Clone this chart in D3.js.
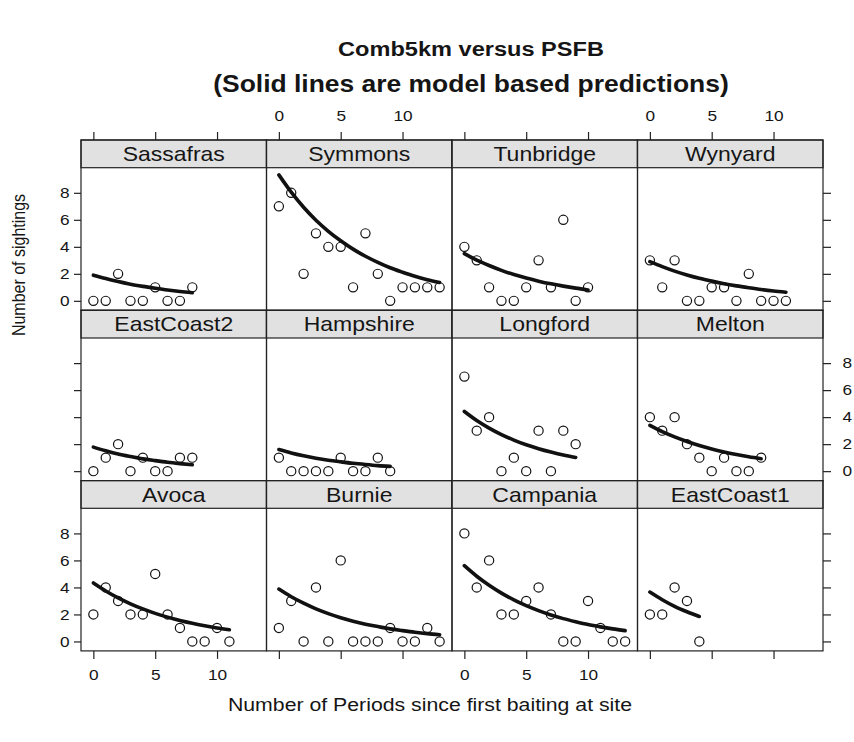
<!DOCTYPE html>
<meta charset="utf-8">
<style>
body { margin: 0; background: #fff; }
svg { display: block; }
text { font-family: "Liberation Sans", Arial, sans-serif; fill: #151515; }
.strip { fill: #e1e1e1; stroke: #222; stroke-width: 1.2px; }
.frame { fill: none; stroke: #222; stroke-width: 1.2px; }
.obs { fill: none; stroke: #111; stroke-width: 1.2px; }
.fit { fill: none; stroke: #111; stroke-width: 3.6px; stroke-linecap: round; }
</style>
<body>
<script src="https://cdn.jsdelivr.net/npm/d3@7"></script>
<script>
// panel order as lattice draws it, top row first
var rowsOfSites = [
  ["Sassafras", "Symmons", "Tunbridge", "Wynyard"],
  ["EastCoast2", "Hampshire", "Longford", "Melton"],
  ["Avoca", "Burnie", "Campania", "EastCoast1"]
];

// observed sightings, one value per period (period = index)
var obsSassafras  = [0, 0, 2, 0, 0, 1, 0, 0, 1];
var obsSymmons    = [7, 8, 2, 5, 4, 4, 1, 5, 2, 0, 1, 1, 1, 1];
var obsTunbridge  = [4, 3, 1, 0, 0, 1, 3, 1, 6, 0, 1];
var obsWynyard    = [3, 1, 3, 0, 0, 1, 1, 0, 2, 0, 0, 0];
var obsEastCoast2 = [0, 1, 2, 0, 1, 0, 0, 1, 1];
var obsHampshire  = [1, 0, 0, 0, 0, 1, 0, 0, 1, 0];
var obsLongford   = [7, 3, 4, 0, 1, 0, 3, 0, 3, 2];
var obsMelton     = [4, 3, 4, 2, 1, 0, 1, 0, 0, 1];
var obsAvoca      = [2, 4, 3, 2, 2, 5, 2, 1, 0, 0, 1, 0];
var obsBurnie     = [1, 3, 0, 4, 0, 6, 0, 0, 0, 1, 0, 0, 1, 0];
var obsCampania   = [8, 4, 6, 2, 2, 3, 4, 2, 0, 0, 3, 1, 0, 0];
var obsEastCoast1 = [2, 2, 4, 3, 0];

// model predictions
var fitSassafras  = [1.90, 1.65, 1.43, 1.23, 1.07, 0.93, 0.80, 0.69, 0.60];
var fitSymmons    = [9.33, 8.05, 6.93, 5.97, 5.15, 4.45, 3.83, 3.30, 2.85, 2.45, 2.12, 1.82, 1.57, 1.36];
var fitTunbridge  = [3.50, 3.02, 2.62, 2.26, 1.95, 1.69, 1.46, 1.26, 1.09, 0.94, 0.81];
var fitWynyard    = [2.90, 2.53, 2.20, 1.92, 1.67, 1.46, 1.27, 1.11, 0.97, 0.84, 0.73, 0.64];
var fitEastCoast2 = [1.78, 1.51, 1.27, 1.08, 0.91, 0.78, 0.66, 0.56, 0.47];
var fitHampshire  = [1.60, 1.35, 1.14, 0.96, 0.81, 0.69, 0.58, 0.49, 0.41, 0.35];
var fitLongford   = [4.42, 3.75, 3.19, 2.71, 2.30, 1.95, 1.66, 1.41, 1.19, 1.01];
var fitMelton     = [3.39, 2.93, 2.54, 2.20, 1.90, 1.64, 1.42, 1.23, 1.06, 0.92];
var fitAvoca      = [4.33, 3.74, 3.23, 2.79, 2.41, 2.08, 1.80, 1.55, 1.34, 1.16, 1.00, 0.87];
var fitBurnie     = [3.88, 3.31, 2.83, 2.41, 2.06, 1.76, 1.50, 1.28, 1.10, 0.93, 0.80, 0.68, 0.58, 0.50];
var fitCampania   = [5.61, 4.83, 4.16, 3.58, 3.08, 2.65, 2.28, 1.96, 1.69, 1.46, 1.25, 1.08, 0.93, 0.80];
var fitEastCoast1 = [3.66, 3.09, 2.60, 2.20, 1.85];

var xTicks = [0, 5, 10];
var yTicks = [0, 2, 4, 6, 8];

var siteData = {
  Sassafras: [obsSassafras, fitSassafras], Symmons: [obsSymmons, fitSymmons],
  Tunbridge: [obsTunbridge, fitTunbridge], Wynyard: [obsWynyard, fitWynyard],
  EastCoast2: [obsEastCoast2, fitEastCoast2], Hampshire: [obsHampshire, fitHampshire],
  Longford: [obsLongford, fitLongford], Melton: [obsMelton, fitMelton],
  Avoca: [obsAvoca, fitAvoca], Burnie: [obsBurnie, fitBurnie],
  Campania: [obsCampania, fitCampania], EastCoast1: [obsEastCoast1, fitEastCoast1]
};

var width = 854, height = 742;
var padLeft = 81, padTop = 140;
var panelW = 185.5, panelH = 170.3, stripH = 27.7;
var sx = 1.15; // the reference text is slightly stretched sideways

var x = d3.scaleLinear().domain([-1, 14]).range([0, panelW]);
var y = d3.scaleLinear().domain([-0.7, 9.86]).range([panelH - stripH, 0]);

var svg = d3.select("body").append("svg")
    .attr("width", width)
    .attr("height", height);

function label(g, px, py, str, size, weight, rot) {
  var tr = "translate(" + px + "," + py + ")" + (rot ? " rotate(-90) scale(1," + sx + ")" : " scale(" + sx + ",1)");
  return g.append("text")
      .attr("transform", tr)
      .attr("text-anchor", "middle")
      .style("font-size", size + "px")
      .style("font-weight", weight || "normal")
      .text(str);
}

// titles
label(svg, 471, 56, "Comb5km versus PSFB", 20.5, "bold");
label(svg, 471, 92, "(Solid lines are model based predictions)", 23, "bold");
label(svg, 430, 711, "Number of Periods since first baiting at site", 18.5);
label(svg, 25, 265, "Number of sightings", 16, "normal", true);

var line = d3.line()
    .x(function(d, i) { return x(i); })
    .y(function(d) { return y(d); })
    .curve(d3.curveMonotoneX);

function styleAxis(g) {
  g.select(".domain").remove();
  g.attr("color", "#222");
  g.selectAll(".tick line").attr("stroke-width", 1.2);
  g.selectAll("text")
      .style("font-size", "15px")
      .style("font-family", '"Liberation Sans", Arial, sans-serif')
      .attr("fill", "#151515")
      .attr("transform", "scale(" + sx + ",1)");
}

rowsOfSites.forEach(function(row, r) {
  row.forEach(function(site, c) {
    var obs = siteData[site][0], fit = siteData[site][1];
    var g = svg.append("g")
        .attr("transform", "translate(" + (padLeft + c * panelW) + "," + (padTop + r * panelH) + ")");

    g.append("rect").attr("class", "strip")
        .attr("width", panelW).attr("height", stripH);
    label(g, panelW / 2, 21, site, 20);

    var plot = g.append("g").attr("transform", "translate(0," + stripH + ")");

    plot.selectAll("circle")
        .data(obs)
      .enter().append("circle")
        .attr("class", "obs")
        .attr("cx", function(d, i) { return x(i); })
        .attr("cy", function(d) { return y(d); })
        .attr("r", 4.6);

    plot.append("path").attr("class", "fit").attr("d", line(fit));

    g.append("rect").attr("class", "frame")
        .attr("width", panelW).attr("height", panelH);

    // alternating lattice axes
    if (r === 0) {
      g.append("g").call(d3.axisTop(x).tickValues(xTicks).tickSize(8).tickPadding(11)
          .tickFormat(c % 2 === 1 ? d3.format("d") : function() { return ""; }))
        .call(styleAxis);
    }
    if (r === rowsOfSites.length - 1) {
      g.append("g").attr("transform", "translate(0," + panelH + ")")
        .call(d3.axisBottom(x).tickValues(xTicks).tickSize(8).tickPadding(10)
          .tickFormat(c % 2 === 0 ? d3.format("d") : function() { return ""; }))
        .call(styleAxis);
    }
    if (c === 0) {
      plot.append("g").call(d3.axisLeft(y).tickValues(yTicks).tickSize(7).tickPadding(3)
          .tickFormat(r % 2 === 0 ? d3.format("d") : function() { return ""; }))
        .call(styleAxis);
    }
    if (c === row.length - 1) {
      plot.append("g").attr("transform", "translate(" + panelW + ",0)")
        .call(d3.axisRight(y).tickValues(yTicks).tickSize(8).tickPadding(9)
          .tickFormat(r % 2 === 1 ? d3.format("d") : function() { return ""; }))
        .call(styleAxis);
    }
  });
});
</script>
